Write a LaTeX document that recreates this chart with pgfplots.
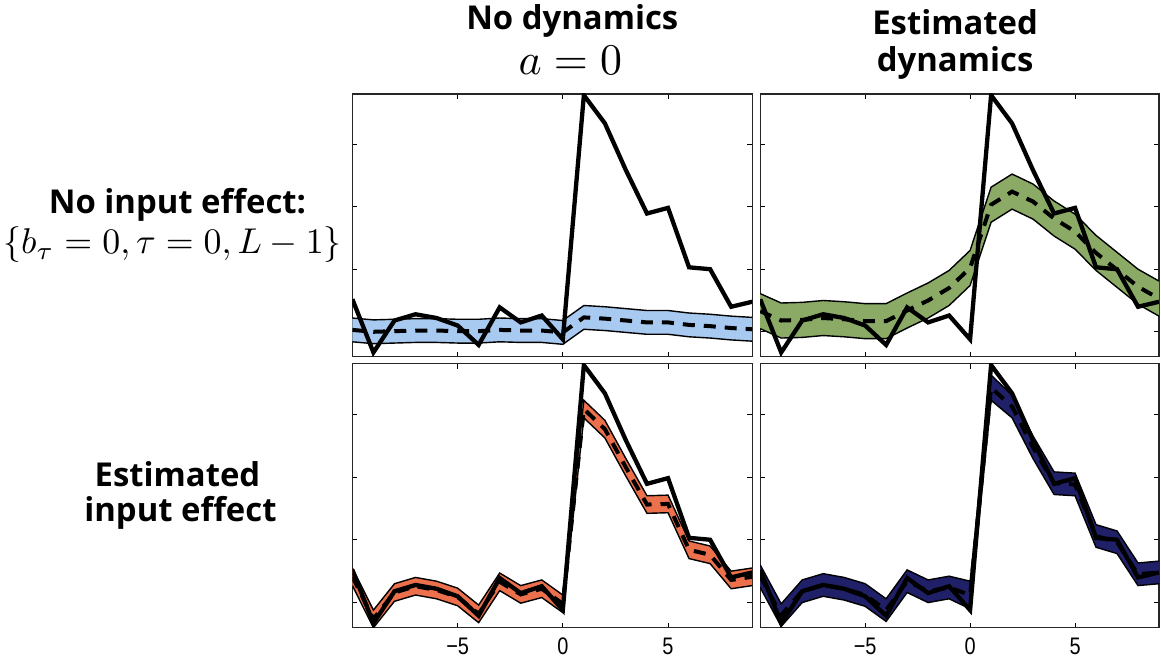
\documentclass[border=0pt]{standalone}
\usepackage{graphicx}
\usepackage{fontspec}
\usepackage{pgfplots}
\pgfplotsset{compat=1.18}
\usepackage{pgfplotstable}
\usepgfplotslibrary{fillbetween}
\newfontfamily\titlefont{Open Sans}
\newfontfamily\tickfont{Liberation Sans}
\newcommand{\ticklab}[1]{\scalebox{2.0}[2.4]{\tickfont #1}}
\definecolor{bandblue}{RGB}{168,201,240}
\definecolor{bandgreen}{RGB}{138,170,102}
\definecolor{bandorange}{RGB}{236,112,76}
\definecolor{bandnavy}{RGB}{32,32,104}

\pgfplotstableread{
x obs
-10 0.52
-9 -0.33
-8 0.18
-7 0.28
-6 0.22
-5 0.10
-4 -0.21
-3 0.39
-2 0.15
-1 0.26
0 -0.12
1 3.78
2 3.33
3 2.58
4 1.89
5 1.98
6 1.03
7 1.00
8 0.40
9 0.48
}\obsdata

\pgfplotstableread{
x lo mid hi
-10 -0.16 0.03 0.22
-9 -0.19 0.00 0.19
-8 -0.18 0.01 0.20
-7 -0.17 0.02 0.21
-6 -0.17 0.02 0.21
-5 -0.18 0.01 0.20
-4 -0.18 0.01 0.20
-3 -0.16 0.03 0.22
-2 -0.17 0.02 0.21
-1 -0.17 0.02 0.21
0 -0.20 -0.01 0.18
1 0.04 0.23 0.42
2 0.02 0.21 0.40
3 -0.01 0.18 0.37
4 -0.04 0.15 0.34
5 -0.04 0.15 0.34
6 -0.08 0.11 0.30
7 -0.10 0.09 0.28
8 -0.13 0.06 0.25
9 -0.15 0.04 0.23
}\bluedata

\pgfplotstableread{
x lo mid hi
-10 0.05 0.33 0.61
-9 -0.10 0.18 0.46
-8 -0.09 0.19 0.47
-7 -0.06 0.22 0.50
-6 -0.08 0.20 0.48
-5 -0.11 0.17 0.45
-4 -0.11 0.17 0.45
-3 0.06 0.34 0.62
-2 0.22 0.50 0.78
-1 0.42 0.70 0.98
0 0.74 1.02 1.30
1 1.75 2.03 2.31
2 1.96 2.24 2.52
3 1.80 2.08 2.36
4 1.53 1.81 2.09
5 1.32 1.60 1.88
6 0.98 1.26 1.54
7 0.71 0.99 1.27
8 0.44 0.72 1.00
9 0.25 0.53 0.81
}\greendata

\pgfplotstableread{
x lo mid hi
-10 0.27 0.41 0.55
-9 -0.40 -0.26 -0.12
-8 0.02 0.16 0.30
-7 0.12 0.26 0.40
-6 0.06 0.20 0.34
-5 -0.05 0.09 0.23
-4 -0.32 -0.18 -0.04
-3 0.19 0.33 0.47
-2 -0.01 0.13 0.27
-1 0.08 0.22 0.36
0 -0.16 -0.02 0.12
1 2.94 3.08 3.22
2 2.62 2.76 2.90
3 2.01 2.15 2.29
4 1.42 1.56 1.70
5 1.43 1.57 1.71
6 0.70 0.84 0.98
7 0.62 0.76 0.90
8 0.22 0.36 0.50
9 0.27 0.41 0.55
}\orangedata

\pgfplotstableread{
x lo mid hi
-10 0.24 0.42 0.60
-9 -0.38 -0.20 -0.02
-8 0.00 0.18 0.36
-7 0.10 0.28 0.46
-6 0.04 0.22 0.40
-5 -0.06 0.12 0.30
-4 -0.30 -0.12 0.06
-3 0.16 0.34 0.52
-2 0.00 0.18 0.36
-1 0.06 0.24 0.42
0 -0.10 0.12 0.34
1 3.22 3.42 3.62
2 2.94 3.12 3.30
3 2.29 2.47 2.65
4 1.72 1.90 2.08
5 1.70 1.88 2.06
6 0.88 1.06 1.24
7 0.78 0.96 1.14
8 0.27 0.45 0.63
9 0.30 0.48 0.66
}\navydata

\pgfplotsset{
  panel/.style={
    scale only axis, anchor=south west,
    width=400bp, height=263bp,
    xmin=-10, xmax=9, ymin=-0.4, ymax=3.8,
    xtick={-5,0,5}, ytick={0,1,2,3}, yticklabels={},
    tick align=inside,
    major tick length=5bp,
    major tick style={line width=0.8bp, black},
    axis line style={line width=1.1bp, black!85},
  },
  bandedge/.style={black, line width=1.4bp},
  meanline/.style={black, line width=4bp, dash pattern=on 12bp off 9bp},
  obsline/.style={black, line width=4.3bp, miter limit=4},
}

\newcommand{\band}[2]{%
  \addplot[draw=none, name path=U] table[x=x,y=hi]{#1};
  \addplot[draw=none, name path=L] table[x=x,y=lo]{#1};
  \addplot[fill=#2] fill between[of=U and L];
  \addplot[bandedge] table[x=x,y=hi]{#1};
  \addplot[bandedge] table[x=x,y=lo]{#1};
  \addplot[meanline] table[x=x,y=mid]{#1};
  \addplot[obsline] table[x=x,y=obs]{\obsdata};
}

\begin{document}
\begin{tikzpicture}

\begin{axis}[panel, at={(352bp,302bp)}, xticklabels={}]
\band{\bluedata}{bandblue}
\end{axis}

\begin{axis}[panel, at={(760bp,302bp)}, width=399bp, xticklabels={}]
\band{\greendata}{bandgreen}
\end{axis}

\begin{axis}[panel, at={(352bp,31bp)}, height=264bp,
  xticklabels={\ticklab{−5},\ticklab{0},\ticklab{5}},
  x tick label style={anchor=north, inner sep=0pt, yshift=-10bp}]
\band{\orangedata}{bandorange}
\end{axis}

\begin{axis}[panel, at={(760bp,31bp)}, width=399bp, height=264bp,
  xticklabels={\ticklab{−5},\ticklab{0},\ticklab{5}},
  x tick label style={anchor=north, inner sep=0pt, yshift=-10bp}]
\band{\navydata}{bandnavy}
\end{axis}

\node[anchor=base, font=\titlefont\bfseries\fontsize{33}{33}\selectfont] at (572bp,629bp) {No dynamics};
\node[anchor=base] at (570bp,584bp) {\scalebox{4.4}{$a=0$}};
\node[anchor=base, font=\titlefont\bfseries\fontsize{33}{33}\selectfont] at (955bp,624bp) {Estimated};
\node[anchor=base, font=\titlefont\bfseries\fontsize{33}{33}\selectfont] at (955bp,587bp) {dynamics};

\node[anchor=base, font=\titlefont\bfseries\fontsize{33}{33}\selectfont] at (177bp,445bp) {No input effect:};
\node[anchor=base] at (172bp,405bp) {\scalebox{3.6}{$\{b_\tau=0,\tau=0,L-1\}$}};
\node[anchor=base, font=\titlefont\bfseries\fontsize{33}{33}\selectfont] at (177bp,172bp) {Estimated};
\node[anchor=base, font=\titlefont\bfseries\fontsize{33}{33}\selectfont] at (180bp,137bp) {input effect};

\path (0bp,0bp) rectangle (1161bp,659bp);
\end{tikzpicture}
\end{document}
